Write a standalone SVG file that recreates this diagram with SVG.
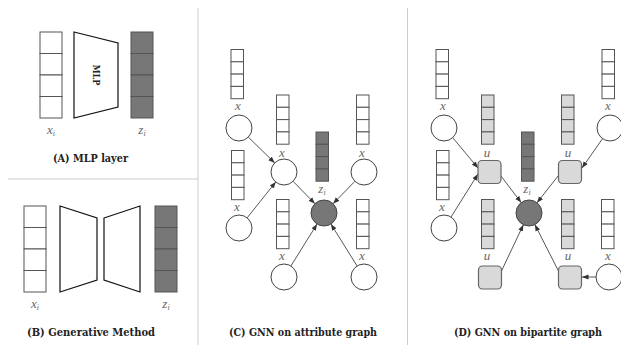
<svg xmlns="http://www.w3.org/2000/svg" xmlns:xlink="http://www.w3.org/1999/xlink" width="621" height="345" viewBox="0 0 621 345">
<style>
.cell{stroke:#555;stroke-width:1}
.w{fill:#fff}
.d{fill:#777}
.l{fill:#d9d9d9}
.trap{fill:#fff;stroke:#111;stroke-width:1.2}
.node{fill:#fff;stroke:#444;stroke-width:1}
.dnode{fill:#777;stroke:#444;stroke-width:1}
.unode{fill:#d9d9d9;stroke:#666;stroke-width:1.2}
.lab{font-family:"Liberation Serif",serif;font-style:italic;font-size:13px;fill:#666;text-anchor:middle}
.sub{font-size:8px}
.title{font-family:"DejaVu Serif Condensed","DejaVu Serif",serif;font-weight:bold;font-size:11.5px;fill:#222}
.div{stroke:#ccc;stroke-width:1}
.edge{stroke:#444;stroke-width:0.9;fill:none;marker-end:url(#ah)}
</style>
<defs>
<marker id="ah" markerWidth="7" markerHeight="6" refX="6.5" refY="3" orient="auto" markerUnits="userSpaceOnUse">
<path d="M0,0.5 L6.5,3 L0,5.5 Z" fill="#333"/>
</marker>
<g id="sv">
<rect class="cell" x="0" y="0" width="12.5" height="12.3"/>
<rect class="cell" x="0" y="12.3" width="12.5" height="12.3"/>
<rect class="cell" x="0" y="24.6" width="12.5" height="12.3"/>
<rect class="cell" x="0" y="36.9" width="12.5" height="12.3"/>
</g>
<g id="bv">
<rect class="cell" x="0" y="0" width="22" height="21.5"/>
<rect class="cell" x="0" y="21.5" width="22" height="21.5"/>
<rect class="cell" x="0" y="43" width="22" height="21.5"/>
<rect class="cell" x="0" y="64.5" width="22" height="21.5"/>
</g>
</defs>
<rect width="621" height="345" fill="#fff"/>
<g id="dividers">
<line class="div" x1="198" y1="8" x2="198" y2="345"/>
<line class="div" x1="407.5" y1="8" x2="407.5" y2="345"/>
<line class="div" x1="8" y1="179" x2="198" y2="179"/>
</g>

<!-- Panel A -->
<g id="A-xi"><use xlink:href="#bv" x="40" y="32" class="w"/>
<text class="lab" x="51" y="134">x<tspan class="sub" dy="2">i</tspan></text></g>
<g id="A-mlp"><polygon class="trap" points="74,32 118,43 118,107 74,118"/>
<text x="0" y="0" transform="translate(92.5,75) rotate(90)" font-family="DejaVu Serif Condensed,DejaVu Serif,serif" font-weight="bold" font-size="9" text-anchor="middle" fill="#222">MLP</text></g>
<g id="A-zi"><use xlink:href="#bv" x="131" y="32" class="d"/>
<text class="lab" x="142" y="134">z<tspan class="sub" dy="2">i</tspan></text></g>
<text class="title" x="53" y="162" textLength="75" lengthAdjust="spacingAndGlyphs">(A) MLP layer</text>

<!-- Panel B -->
<g id="B-xi"><use xlink:href="#bv" x="24" y="206" class="w"/>
<text class="lab" x="35" y="308">x<tspan class="sub" dy="2">i</tspan></text></g>
<g id="B-enc"><polygon class="trap" points="60,206 97,218 97,280 60,292"/></g>
<g id="B-dec"><polygon class="trap" points="104,218 140,206 140,292 104,280"/></g>
<g id="B-zi"><use xlink:href="#bv" x="155" y="206" class="d"/>
<text class="lab" x="166" y="308">z<tspan class="sub" dy="2">i</tspan></text></g>
<text class="title" x="27" y="336" textLength="128" lengthAdjust="spacingAndGlyphs">(B) Generative Method</text>

<!-- Panel C -->
<g id="C-edges">
<line class="edge" x1="248.3" y1="137.1" x2="274.7" y2="162.9"/>
<line class="edge" x1="247.1" y1="217.9" x2="275.8" y2="181.9"/>
<line class="edge" x1="293.1" y1="181.3" x2="314.9" y2="203.7"/>
<line class="edge" x1="354.9" y1="181.3" x2="333.1" y2="203.7"/>
<line class="edge" x1="290.9" y1="266" x2="317.1" y2="224"/>
<line class="edge" x1="357.1" y1="266" x2="330.9" y2="224"/>
</g>
<g id="C-n1"><use xlink:href="#sv" x="231" y="49.5" class="w"/><text class="lab" x="238" y="110">x</text><circle class="node" cx="239" cy="128" r="13"/></g>
<g id="C-n2"><use xlink:href="#sv" x="276.5" y="95" class="w"/><text class="lab" x="282" y="157">x</text><circle class="node" cx="284" cy="172" r="13"/></g>
<g id="C-n3"><use xlink:href="#sv" x="356.5" y="95" class="w"/><text class="lab" x="362" y="157">x</text><circle class="node" cx="364" cy="172" r="13"/></g>
<g id="C-n4"><use xlink:href="#sv" x="231.5" y="150.5" class="w"/><text class="lab" x="237" y="211">x</text><circle class="node" cx="239" cy="228" r="13"/></g>
<g id="C-n5"><use xlink:href="#sv" x="276.5" y="199.5" class="w"/><text class="lab" x="282" y="260">x</text><circle class="node" cx="284" cy="277" r="13"/></g>
<g id="C-n6"><use xlink:href="#sv" x="356.5" y="199.5" class="w"/><text class="lab" x="362" y="260">x</text><circle class="node" cx="364" cy="277" r="13"/></g>
<g id="C-zi"><use xlink:href="#sv" x="316" y="132" class="d"/><text class="lab" x="322" y="193">z<tspan class="sub" dy="2">i</tspan></text><circle class="dnode" cx="324" cy="213" r="13"/></g>
<text class="title" x="229" y="336" textLength="148" lengthAdjust="spacingAndGlyphs">(C) GNN on attribute graph</text>

<!-- Panel D -->
<g id="D-edges">
<line class="edge" x1="453" y1="138" x2="478" y2="168"/>
<line class="edge" x1="451" y1="217" x2="478" y2="174"/>
<line class="edge" x1="501" y1="176" x2="521.2" y2="202.6"/>
<line class="edge" x1="558" y1="176" x2="537" y2="202.8"/>
<line class="edge" x1="602.5" y1="138.7" x2="582" y2="168"/>
<line class="edge" x1="501" y1="272" x2="523.4" y2="224.7"/>
<line class="edge" x1="559" y1="272" x2="534.9" y2="224.6"/>
<line class="edge" x1="596" y1="277" x2="582" y2="277"/>
</g>
<g id="D-x1"><use xlink:href="#sv" x="436" y="49.5" class="w"/><text class="lab" x="443" y="110">x</text><circle class="node" cx="444" cy="128" r="13"/></g>
<g id="D-x2"><use xlink:href="#sv" x="436.5" y="150.5" class="w"/><text class="lab" x="442" y="211">x</text><circle class="node" cx="444" cy="228" r="13"/></g>
<g id="D-x3"><use xlink:href="#sv" x="602" y="49.5" class="w"/><text class="lab" x="608" y="110">x</text><circle class="node" cx="610" cy="128" r="13"/></g>
<g id="D-x4"><use xlink:href="#sv" x="601.5" y="199.5" class="w"/><text class="lab" x="608" y="260">x</text><circle class="node" cx="609" cy="277" r="13"/></g>
<g id="D-u1"><use xlink:href="#sv" x="481.5" y="95" class="l"/><text class="lab" x="487" y="157">u</text><rect class="unode" x="478" y="160.5" width="23" height="23" rx="4"/></g>
<g id="D-u2"><use xlink:href="#sv" x="561.5" y="95" class="l"/><text class="lab" x="568" y="157">u</text><rect class="unode" x="558.5" y="160.5" width="23" height="23" rx="4"/></g>
<g id="D-u3"><use xlink:href="#sv" x="481.5" y="199.5" class="l"/><text class="lab" x="487" y="260">u</text><rect class="unode" x="478.5" y="266" width="23" height="23" rx="4"/></g>
<g id="D-u4"><use xlink:href="#sv" x="561.5" y="199.5" class="l"/><text class="lab" x="568" y="260">u</text><rect class="unode" x="558.5" y="266" width="23" height="23" rx="4"/></g>
<g id="D-zi"><use xlink:href="#sv" x="521.5" y="132" class="d"/><text class="lab" x="527" y="193">z<tspan class="sub" dy="2">i</tspan></text><circle class="dnode" cx="529" cy="213" r="13"/></g>
<text class="title" x="454" y="336" textLength="148" lengthAdjust="spacingAndGlyphs">(D) GNN on bipartite graph</text>
</svg>
